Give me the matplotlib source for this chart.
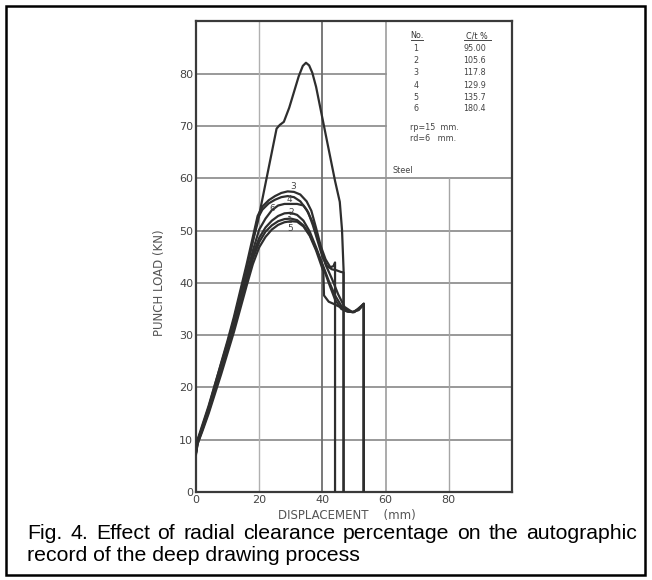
import matplotlib
matplotlib.use("Agg")
import matplotlib.pyplot as plt
from matplotlib.patches import Rectangle

# curve data (displacement mm, punch load kN)
x_top = [0, 0.5, 2, 4, 6, 8, 10, 12, 14, 16, 18, 19.5, 21, 23, 25.5, 26.5, 27.8, 29.5, 31, 32.5,
         33.8, 34.8, 35.8, 36.8, 38, 39.5, 41, 42.5, 44, 45.5, 46.2, 46.7, 46.7]
y_top = [7.8, 9.8, 12.2, 15.8, 19.8, 24, 28.2, 32.8, 37.8, 42.8, 48, 51.5, 56, 62, 69.5, 70.2, 70.8, 73.5, 76.5, 79.5,
         81.5, 82.1, 81.6, 80.2, 77.5, 73, 68.5, 64, 59.5, 55.5, 50.2, 42.5, 0]

x_3 = [0, 0.5, 2, 4, 6, 8, 10, 12, 14, 16, 18, 19.5, 21, 23, 25, 27, 29, 31, 33, 35,
       36.5, 38, 39.5, 41, 42.5, 43.5, 44, 44]
y_3 = [7.5, 9.6, 12.5, 16.2, 20.5, 24.8, 29, 33.5, 38.5, 43.5, 48.8, 52.8, 54.6, 55.8, 56.6, 57.2, 57.5, 57.4, 56.9, 55.6,
       53.8, 50.5, 47, 44.5, 43, 43.2, 43.9, 0]

x_4 = [0, 0.5, 2, 4, 6, 8, 10, 12, 14, 16, 18, 19.5, 21, 23, 25, 27, 29, 31, 33, 35,
       37, 39, 41, 43, 45, 47, 49.5, 51.5, 53.1, 53.1]
y_4 = [8.2, 10, 12.8, 16.5, 20.6, 24.6, 28.6, 33, 37.8, 42.8, 48, 52.3, 54, 55.2, 55.9, 56.4, 56.6, 56.4, 55.6, 54,
       51.5, 47.5, 43.5, 40.8, 37.8, 35.4, 34.4, 34.8, 36, 0]

x_6 = [0, 0.5, 2, 4, 6, 8, 10, 12, 14, 16, 18, 20, 22, 24, 26, 28, 30, 32, 34, 35.5,
       37, 38.5, 40, 41.5, 43, 44.5, 45.8, 46.7, 46.7]
y_6 = [7.2, 9.2, 12, 15.6, 19.6, 23.6, 27.6, 31.8, 36.6, 41.4, 46.2, 50.2, 52.3, 53.9, 54.8, 55.1, 55.1, 55.1, 54.8, 53.5,
       51, 48, 45, 43.2, 42.6, 42.4, 42.1, 42, 0]

x_2 = [0, 0.5, 2, 4, 6, 8, 10, 12, 14, 16, 18, 20, 22, 24, 26, 28, 30, 32, 34, 36,
       38, 40, 42, 44, 46, 48, 50, 52, 53.1, 53.1]
y_2 = [8, 9.9, 12.3, 15.9, 19.9, 23.9, 27.9, 32, 36.6, 41.2, 45.4, 48.6, 50.6, 51.9, 52.8, 53.3, 53.4, 53, 51.9, 49.8,
       46.8, 43.6, 40.4, 37.6, 35.6, 34.6, 34.4, 35.2, 36, 0]

x_1 = [0, 0.5, 2, 4, 6, 8, 10, 12, 14, 16, 18, 20, 22, 24, 26, 28, 30, 32, 34, 36,
       38, 40, 42, 44, 46, 48, 50, 53.1, 53.1]
y_1 = [7.6, 9.5, 11.9, 15.4, 19.3, 23.2, 27.2, 31.3, 35.8, 40.3, 44.6, 47.8, 49.8, 51, 51.8, 52.2, 52.3, 52, 51, 49.2,
       46.5, 43.4, 40, 36.8, 35, 34.5, 34.4, 36, 0]

x_5 = [0, 0.5, 2, 4, 6, 8, 10, 12, 14, 16, 18, 20, 22, 24, 26, 28, 30, 32, 34, 36,
       38, 40.3, 40.5, 42, 43.5, 45.5, 47.5, 49.5, 51.5, 53.1, 53.1]
y_5 = [7.4, 9.2, 11.6, 15, 18.8, 22.6, 26.6, 30.6, 35, 39.4, 43.6, 46.8, 48.8, 50.2, 51.1, 51.6, 51.8, 51.7, 50.8, 49,
       46.2, 42.2, 37.6, 36.4, 36, 35.4, 34.6, 34.4, 35, 36, 0]

# curve number labels written on the record
curve_tags = ["3", "4", "6", "2", "1", "5"]
tag_x = [30.6, 29.4, 24.1, 30.1, 29.8, 29.8]
tag_y = [58.4, 56.0, 54.2, 53.5, 51.9, 50.4]

# table in the upper right corner
table_no = ["1", "2", "3", "4", "5", "6"]
table_ct = ["95.00", "105.6", "117.8", "129.9", "135.7", "180.4"]
table_y = [84.9, 82.6, 80.2, 77.8, 75.5, 73.3]

xticks = [0, 20, 40, 60, 80]
yticks = [0, 10, 20, 30, 40, 50, 60, 70, 80]

caption1 = "Fig. 4. Effect of radial clearance percentage on the autographic"
caption2 = "record of the deep drawing process"

fig = plt.figure(figsize=(6.52, 5.80), dpi=100)
ax = fig.add_axes([0.3006, 0.1517, 0.4847, 0.8113])
ax.set_xlim(0, 100)
ax.set_ylim(0, 90)

# hand drawn style grid (partial lines where the table box is)
for yv in [10, 20, 30, 40, 50, 60]:
    ax.axhline(yv, color="#7d7d7d", lw=1.1, zorder=1)
for yv in [70, 80]:
    ax.axhline(yv, xmax=0.6, color="#7d7d7d", lw=1.1, zorder=1)
ax.axvline(20, color="#b0b0b0", lw=1.0, zorder=1)
ax.axvline(40, color="#6e6e6e", lw=1.3, zorder=1)
ax.axvline(60, color="#959595", lw=1.1, zorder=1)
ax.axvline(80, ymax=60 / 90, color="#a5a5a5", lw=1.0, zorder=1)

lc = "#2e2e2e"
for xs, ys in [(x_top, y_top), (x_3, y_3), (x_4, y_4), (x_6, y_6), (x_2, y_2), (x_1, y_1), (x_5, y_5)]:
    ax.plot(xs, ys, color=lc, lw=1.6, solid_joinstyle="round", zorder=3)

for t, tx, ty in zip(curve_tags, tag_x, tag_y):
    ax.text(tx, ty, t, fontsize=6.5, color="#444444", ha="center", va="center", zorder=4)

# table header, underlined
ax.text(69.8, 87.3, "No.", fontsize=5.8, color="#333333", ha="center", va="center")
ax.text(89.0, 87.3, "C/t %", fontsize=5.8, color="#333333", ha="center", va="center")
ax.plot([67.9, 71.8], [86.4, 86.4], color="#444444", lw=0.7)
ax.plot([84.8, 93.4], [86.4, 86.4], color="#444444", lw=0.7)
for n, c, yy in zip(table_no, table_ct, table_y):
    ax.text(69.6, yy, n, fontsize=5.8, color="#444444", ha="center", va="center")
    ax.text(84.6, yy, c, fontsize=5.8, color="#444444", ha="left", va="center")
ax.text(67.6, 69.7, "rp=15  mm.", fontsize=5.8, color="#444444", ha="left", va="center")
ax.text(67.6, 67.6, "rd=6   mm.", fontsize=5.8, color="#444444", ha="left", va="center")
ax.text(62.1, 61.4, "Steel", fontsize=5.8, color="#444444", ha="left", va="center")

ax.set_xticks(xticks)
ax.set_yticks(yticks)
ax.tick_params(length=0, labelsize=8, labelcolor="#444444", pad=2)
for s in ax.spines.values():
    s.set_color("#3a3a3a")
    s.set_linewidth(1.6)

fig.text(0.245, 0.512, "PUNCH LOAD (KN)", rotation=90, fontsize=8.5, color="#555555",
         ha="center", va="center")
fig.text(0.532, 0.112, "DISPLACEMENT    (mm)", fontsize=8.5, color="#555555",
         ha="center", va="center")

# caption: first line justified between the left and right margins
x_left, x_right = 27 / 652, 637 / 652
words = caption1.split(" ")
word_txt = [fig.text(0, 0.081, w, family="Liberation Sans", fontsize=15.3, ha="left", va="center")
            for w in words]
fig.canvas.draw()
r = fig.canvas.get_renderer()
widths = [t.get_window_extent(r).width / fig.bbox.width for t in word_txt]
gap = (x_right - x_left - sum(widths)) / (len(words) - 1)
xpos = x_left
for t, w in zip(word_txt, widths):
    t.set_x(xpos)
    xpos += w + gap
fig.text(x_left, 0.043, caption2, family="Liberation Sans", fontsize=15.3, ha="left", va="center")

fig.patches.append(Rectangle((6 / 652, 5 / 580), 639 / 652, 569 / 580, transform=fig.transFigure,
                             fill=False, edgecolor="black", lw=1.8))

fig.savefig("out.png", dpi=100)
